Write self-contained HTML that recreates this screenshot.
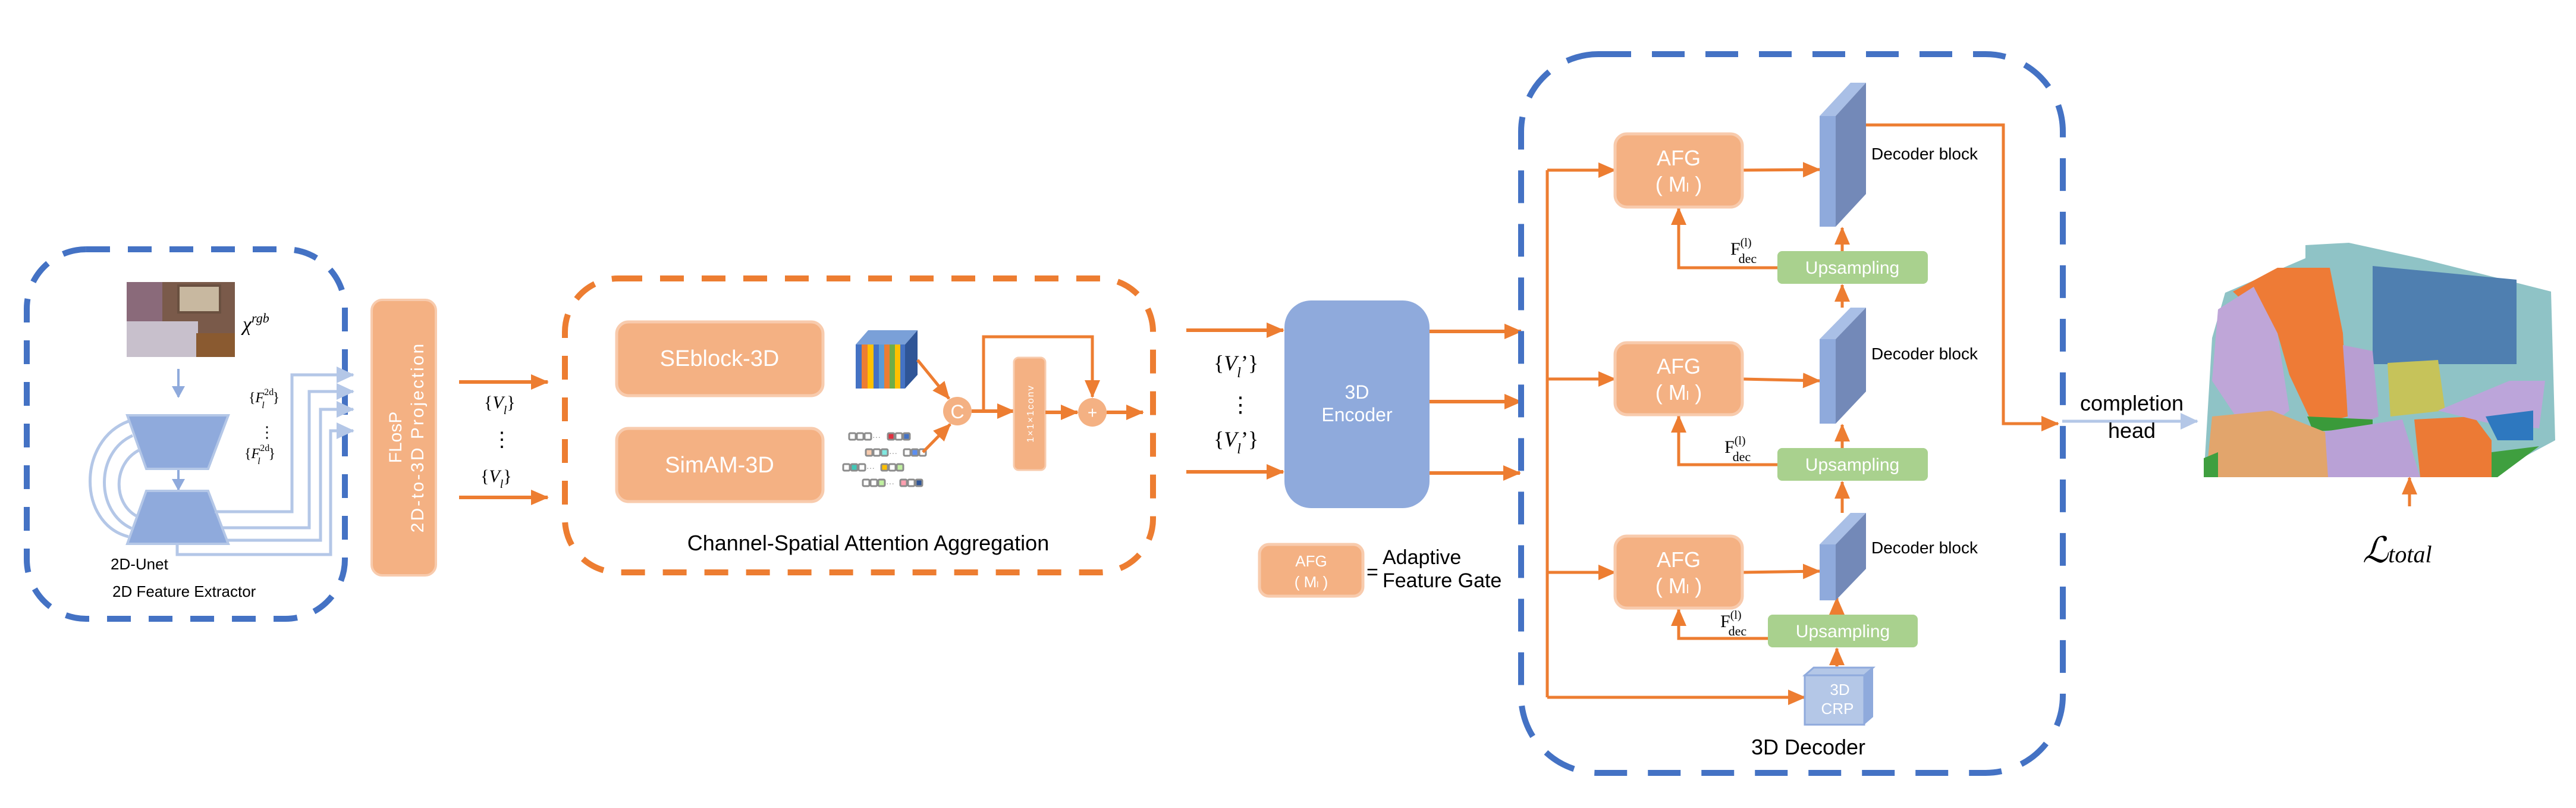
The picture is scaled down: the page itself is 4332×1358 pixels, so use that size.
<!DOCTYPE html>
<html><head><meta charset="utf-8"><style>
html,body{margin:0;padding:0;background:#fff;}
svg{display:block}
text{font-family:"Liberation Sans",sans-serif}
.ser{font-family:"Liberation Serif",serif}
</style></head><body>
<svg width="4332" height="1358" viewBox="0 0 4332 1358" xmlns="http://www.w3.org/2000/svg">
<defs>
<marker id="ao" markerUnits="userSpaceOnUse" markerWidth="30" markerHeight="30" refX="28" refY="15" orient="auto"><path d="M0,2 L30,15 L0,28 Z" fill="#ed7d31"/></marker>
<marker id="ab" markerUnits="userSpaceOnUse" markerWidth="30" markerHeight="30" refX="28" refY="15" orient="auto"><path d="M0,1 L30,15 L0,29 Z" fill="#b4c7e7"/></marker>
<marker id="ab2" markerUnits="userSpaceOnUse" markerWidth="20" markerHeight="22" refX="18" refY="11" orient="auto"><path d="M0,0 L20,11 L0,22 Z" fill="#8faadc"/></marker>
</defs>

<!-- Left blue dashed box -->
<rect x="45" y="419" width="535" height="621" rx="100" fill="none" stroke="#4472c4" stroke-width="10" stroke-dasharray="40,30"/>
<!-- Photo -->
<rect x="213" y="474" width="182" height="126" fill="#7a5a4a"/>
<rect x="213" y="474" width="60" height="126" fill="#8a6a7a"/>
<rect x="300" y="480" width="70" height="45" fill="#c8b8a0" stroke="#6a5040" stroke-width="4"/>
<rect x="213" y="540" width="120" height="60" fill="#c8c0cc"/>
<rect x="330" y="560" width="65" height="40" fill="#8a5a30"/>
<text x="408" y="556" class="ser" font-style="italic" font-size="34">χ<tspan font-size="22" dy="-14">rgb</tspan></text>
<!-- arrows -->
<line x1="300" y1="620" x2="300" y2="667" stroke="#8faadc" stroke-width="4" marker-end="url(#ab2)"/>
<line x1="300" y1="790" x2="300" y2="823" stroke="#8faadc" stroke-width="4" marker-end="url(#ab2)"/>
<!-- arcs -->
<g fill="none" stroke="#b4c7e7" stroke-width="5">
<path d="M216,708 C130,740 130,880 216,902"/>
<path d="M223,732 C160,760 160,860 221,888"/>
<path d="M233,757 C190,780 190,845 229,867"/>
</g>
<polygon points="214,698 384,698 350,788 246,788" fill="#8faadc" stroke="#b4c7e7" stroke-width="4"/>
<polygon points="246,825 350,825 384,914 214,914" fill="#8faadc" stroke="#b4c7e7" stroke-width="4"/>
<g fill="none" stroke="#b4c7e7" stroke-width="5">
<path d="M361,860 H491 V630 H594" marker-end="url(#ab)"/>
<path d="M372,887 H520 V658 H594" marker-end="url(#ab)"/>
<path d="M380,908 H539 V688 H594" marker-end="url(#ab)"/>
<path d="M298,914 V932 H556 V724 H594" marker-end="url(#ab)"/>
</g>
<text x="418" y="676" class="ser" font-size="24">{<tspan font-style="italic">F</tspan><tspan font-size="16" dy="-12">2d</tspan><tspan font-size="16" font-style="italic" dx="-20" dy="22">l</tspan><tspan dy="-10" dx="14">}</tspan></text>
<text x="436" y="735" font-size="26">⋮</text>
<text x="411" y="770" class="ser" font-size="24">{<tspan font-style="italic">F</tspan><tspan font-size="16" dy="-12">2d</tspan><tspan font-size="16" font-style="italic" dx="-20" dy="22">l</tspan><tspan dy="-10" dx="14">}</tspan></text>
<text x="186" y="957" font-size="26">2D-Unet</text>
<text x="189" y="1003" font-size="26">2D Feature Extractor</text>

<!-- FLosP bar -->
<rect x="625" y="504" width="108" height="463" rx="18" fill="#f4b183" stroke="#f8cbad" stroke-width="4"/>
<text transform="translate(675,735) rotate(-90)" text-anchor="middle" font-size="30" fill="#fff">FLosP</text>
<text transform="translate(712,735) rotate(-90)" text-anchor="middle" font-size="30" fill="#fff" letter-spacing="3">2D-to-3D Projection</text>

<!-- V_l arrows -->
<line x1="772" y1="642" x2="921" y2="642" stroke="#ed7d31" stroke-width="6" marker-end="url(#ao)"/>
<line x1="772" y1="836" x2="921" y2="836" stroke="#ed7d31" stroke-width="6" marker-end="url(#ao)"/>
<text x="814" y="686" class="ser" font-size="30">{<tspan font-style="italic">V</tspan><tspan font-size="20" font-style="italic" dy="10">l</tspan><tspan dy="-10">}</tspan></text>
<text x="827" y="750" font-size="34">⋮</text>
<text x="808" y="810" class="ser" font-size="30">{<tspan font-style="italic">V</tspan><tspan font-size="20" font-style="italic" dy="10">l</tspan><tspan dy="-10">}</tspan></text>

<!-- Orange dashed box -->
<rect x="950" y="468" width="989" height="494" rx="90" fill="none" stroke="#ed7d31" stroke-width="10" stroke-dasharray="40,30"/>
<rect x="1037" y="541" width="347" height="124" rx="20" fill="#f4b183" stroke="#f8cbad" stroke-width="5"/>
<text x="1210" y="615" text-anchor="middle" font-size="38" fill="#fff">SEblock-3D</text>
<rect x="1037" y="720" width="347" height="123" rx="20" fill="#f4b183" stroke="#f8cbad" stroke-width="5"/>
<text x="1210" y="794" text-anchor="middle" font-size="38" fill="#fff">SimAM-3D</text>
<!-- stack -->
<polygon points="1439,579 1460,555 1543,555 1522,579" fill="#7aa0d8"/>
<polygon points="1522,579 1543,555 1543,630 1522,653" fill="#2f5597"/>
<g>
<rect x="1439" y="579" width="10" height="74" fill="#4472c4"/>
<rect x="1449" y="579" width="10" height="74" fill="#ed7d31"/>
<rect x="1459" y="579" width="10" height="74" fill="#ffc000"/>
<rect x="1469" y="579" width="9" height="74" fill="#4472c4"/>
<rect x="1478" y="579" width="9" height="74" fill="#5b9bd5"/>
<rect x="1487" y="579" width="9" height="74" fill="#ed7d31"/>
<rect x="1496" y="579" width="9" height="74" fill="#70ad47"/>
<rect x="1505" y="579" width="9" height="74" fill="#ffc000"/>
<rect x="1514" y="579" width="8" height="74" fill="#4472c4"/>
</g>
<!-- dot rows -->
<g fill="#fff" stroke="#8c8c8c" stroke-width="3">
<rect x="1428" y="728" width="11" height="11" rx="2"/><rect x="1441" y="728" width="11" height="11" rx="2"/><rect x="1454" y="728" width="11" height="11" rx="2"/>
<rect x="1493" y="728" width="11" height="11" rx="2" fill="#e03040"/><rect x="1506" y="728" width="11" height="11" rx="2"/><rect x="1519" y="728" width="11" height="11" rx="2" fill="#4472c4"/>
<rect x="1456" y="755" width="11" height="11" rx="2" fill="#f8cbad"/><rect x="1469" y="755" width="11" height="11" rx="2"/><rect x="1482" y="755" width="11" height="11" rx="2" fill="#80e8e0"/>
<rect x="1520" y="755" width="11" height="11" rx="2"/><rect x="1533" y="755" width="11" height="11" rx="2" fill="#5b8ef0"/><rect x="1546" y="755" width="11" height="11" rx="2"/>
<rect x="1418" y="780" width="11" height="11" rx="2"/><rect x="1431" y="780" width="11" height="11" rx="2" fill="#40c8b8"/><rect x="1444" y="780" width="11" height="11" rx="2"/>
<rect x="1482" y="780" width="11" height="11" rx="2" fill="#ffc000"/><rect x="1495" y="780" width="11" height="11" rx="2"/><rect x="1508" y="780" width="11" height="11" rx="2" fill="#c0f0a0"/>
<rect x="1451" y="806" width="11" height="11" rx="2"/><rect x="1464" y="806" width="11" height="11" rx="2"/><rect x="1477" y="806" width="11" height="11" rx="2" fill="#c0f0a0"/>
<rect x="1514" y="806" width="11" height="11" rx="2" fill="#ffa0b0"/><rect x="1527" y="806" width="11" height="11" rx="2"/><rect x="1540" y="806" width="11" height="11" rx="2" fill="#2f5597"/>
</g>
<g fill="#8c8c8c" font-size="14"><text x="1467" y="739">···</text><text x="1495" y="766">···</text><text x="1457" y="791">···</text><text x="1490" y="817">···</text></g>
<!-- C, conv, + -->
<line x1="1543" y1="605" x2="1596" y2="670" stroke="#ed7d31" stroke-width="5" marker-end="url(#ao)"/>
<line x1="1552" y1="760" x2="1598" y2="713" stroke="#ed7d31" stroke-width="5" marker-end="url(#ao)"/>
<circle cx="1610" cy="691" r="24" fill="#f4b183"/>
<text x="1610" y="703" text-anchor="middle" font-size="32" fill="#fff">C</text>
<line x1="1634" y1="691" x2="1705" y2="691" stroke="#ed7d31" stroke-width="6" marker-end="url(#ao)"/>
<rect x="1705" y="601" width="53" height="189" rx="8" fill="#f4b183" stroke="#f8cbad" stroke-width="3"/>
<text transform="translate(1738,695) rotate(-90)" text-anchor="middle" font-size="16" fill="#fff" letter-spacing="2">1×1×1conv</text>
<path d="M1654,691 V566 H1837 V667" fill="none" stroke="#ed7d31" stroke-width="5" marker-end="url(#ao)"/>
<line x1="1758" y1="693" x2="1812" y2="693" stroke="#ed7d31" stroke-width="6" marker-end="url(#ao)"/>
<circle cx="1837" cy="693" r="24" fill="#f4b183"/>
<text x="1837" y="703" text-anchor="middle" font-size="28" fill="#fff">+</text>
<line x1="1861" y1="693" x2="1922" y2="693" stroke="#ed7d31" stroke-width="6" marker-end="url(#ao)"/>
<text x="1460" y="925" text-anchor="middle" font-size="36">Channel-Spatial Attention Aggregation</text>

<!-- 3D Encoder -->
<line x1="1995" y1="555" x2="2158" y2="555" stroke="#ed7d31" stroke-width="6" marker-end="url(#ao)"/>
<line x1="1995" y1="793" x2="2158" y2="793" stroke="#ed7d31" stroke-width="6" marker-end="url(#ao)"/>
<text x="2041" y="622" class="ser" font-size="36">{<tspan font-style="italic">V</tspan><tspan font-size="24" font-style="italic" dy="12">l</tspan><tspan dy="-12">’}</tspan></text>
<text x="2068" y="692" font-size="36">⋮</text>
<text x="2041" y="750" class="ser" font-size="36">{<tspan font-style="italic">V</tspan><tspan font-size="24" font-style="italic" dy="12">l</tspan><tspan dy="-12">’}</tspan></text>
<rect x="2160" y="505" width="244" height="349" rx="45" fill="#8faadc"/>
<text x="2282" y="670" text-anchor="middle" font-size="32" fill="#fff">3D</text>
<text x="2282" y="708" text-anchor="middle" font-size="32" fill="#fff">Encoder</text>
<g stroke="#ed7d31" stroke-width="6" marker-end="url(#ao)">
<line x1="2404" y1="557" x2="2558" y2="557"/><line x1="2404" y1="675" x2="2558" y2="675"/><line x1="2404" y1="795" x2="2556" y2="795"/>
</g>
<!-- legend -->
<rect x="2118" y="915" width="174" height="87" rx="16" fill="#f4b183" stroke="#f8cbad" stroke-width="5"/>
<text x="2205" y="952" text-anchor="middle" font-size="26" fill="#fff">AFG</text>
<text x="2205" y="987" text-anchor="middle" font-size="26" fill="#fff">( M<tspan font-size="14">l</tspan> )</text>
<text x="2298" y="973" font-size="34">=</text>
<text x="2325" y="948" font-size="34">Adaptive</text>
<text x="2325" y="987" font-size="34">Feature Gate</text>

<!-- Decoder box -->
<rect x="2558" y="91" width="911" height="1208" rx="130" fill="none" stroke="#4472c4" stroke-width="10" stroke-dasharray="55,35"/>
<path d="M2602,286 V1172" fill="none" stroke="#ed7d31" stroke-width="5"/>
<g stroke="#ed7d31" stroke-width="5" marker-end="url(#ao)" fill="none">
<line x1="2602" y1="286" x2="2716" y2="286"/>
<line x1="2602" y1="637" x2="2716" y2="637"/>
<line x1="2602" y1="962" x2="2716" y2="962"/>
<line x1="2602" y1="1172" x2="3035" y2="1172"/>
<line x1="2930" y1="286" x2="3060" y2="285"/>
<line x1="2930" y1="637" x2="3060" y2="640"/>
<line x1="2930" y1="962" x2="3060" y2="960"/>
<path d="M2989,450 H2823 V350"/>
<path d="M2989,781 H2823 V699"/>
<path d="M2973,1073 H2823 V1024"/>
<line x1="3098" y1="422" x2="3098" y2="383"/>
<line x1="3098" y1="517" x2="3098" y2="479"/>
<line x1="3098" y1="753" x2="3098" y2="714"/>
<line x1="3098" y1="862" x2="3098" y2="810"/>
<line x1="3089" y1="1033" x2="3089" y2="1005"/>
<line x1="3089" y1="1120" x2="3089" y2="1090"/>
<path d="M3125,210 H3369 V712 H3461"/>
</g>
<!-- AFG boxes -->
<g>
<rect x="2716" y="225" width="214" height="123" rx="20" fill="#f4b183" stroke="#f8cbad" stroke-width="5"/>
<text x="2823" y="278" text-anchor="middle" font-size="36" fill="#fff">AFG</text>
<text x="2823" y="322" text-anchor="middle" font-size="36" fill="#fff">( M<tspan font-size="20">l</tspan> )</text>
<rect x="2716" y="576" width="214" height="121" rx="20" fill="#f4b183" stroke="#f8cbad" stroke-width="5"/>
<text x="2823" y="628" text-anchor="middle" font-size="36" fill="#fff">AFG</text>
<text x="2823" y="672" text-anchor="middle" font-size="36" fill="#fff">( M<tspan font-size="20">l</tspan> )</text>
<rect x="2716" y="901" width="214" height="121" rx="20" fill="#f4b183" stroke="#f8cbad" stroke-width="5"/>
<text x="2823" y="953" text-anchor="middle" font-size="36" fill="#fff">AFG</text>
<text x="2823" y="997" text-anchor="middle" font-size="36" fill="#fff">( M<tspan font-size="20">l</tspan> )</text>
</g>
<!-- Decoder blocks -->
<g>
<polygon points="3060,195 3112,139 3138,139 3087,195" fill="#a9bfe6"/>
<rect x="3060" y="195" width="27" height="186" fill="#8faadc"/>
<polygon points="3087,195 3138,139 3138,326 3087,381" fill="#7389b8"/>
<polygon points="3060,570 3112,517 3138,517 3087,570" fill="#a9bfe6"/>
<rect x="3060" y="570" width="27" height="142" fill="#8faadc"/>
<polygon points="3087,570 3138,517 3138,658 3087,712" fill="#7389b8"/>
<polygon points="3060,915 3112,862 3138,862 3087,915" fill="#a9bfe6"/>
<rect x="3060" y="915" width="27" height="94" fill="#8faadc"/>
<polygon points="3087,915 3138,862 3138,956 3087,1009" fill="#7389b8"/>
</g>
<g font-size="28"><text x="3147" y="268">Decoder block</text><text x="3147" y="604">Decoder block</text><text x="3147" y="930">Decoder block</text></g>
<!-- Upsampling -->
<rect x="2989" y="422" width="253" height="55" rx="8" fill="#a9d18e"/>
<text x="3115" y="460" text-anchor="middle" font-size="30" fill="#fff">Upsampling</text>
<rect x="2989" y="753" width="253" height="55" rx="8" fill="#a9d18e"/>
<text x="3115" y="791" text-anchor="middle" font-size="30" fill="#fff">Upsampling</text>
<rect x="2973" y="1033" width="252" height="55" rx="8" fill="#a9d18e"/>
<text x="3099" y="1071" text-anchor="middle" font-size="30" fill="#fff">Upsampling</text>
<!-- F_dec -->
<g class="ser" font-size="30"><text x="2910" y="428" class="ser">F<tspan font-size="20" dy="-14">(l)</tspan><tspan font-size="22" dx="-22" dy="28">dec</tspan></text>
<text x="2900" y="761" class="ser">F<tspan font-size="20" dy="-14">(l)</tspan><tspan font-size="22" dx="-22" dy="28">dec</tspan></text>
<text x="2893" y="1054" class="ser">F<tspan font-size="20" dy="-14">(l)</tspan><tspan font-size="22" dx="-22" dy="28">dec</tspan></text></g>
<!-- CRP cube -->
<polygon points="3035,1135 3050,1122 3150,1122 3135,1135" fill="#b4c7e7" stroke="#8faadc" stroke-width="3"/>
<rect x="3035" y="1135" width="100" height="83" fill="#b4c7e7" stroke="#8faadc" stroke-width="3"/>
<polygon points="3135,1135 3150,1122 3150,1205 3135,1218" fill="#8faadc"/>
<text x="3094" y="1168" text-anchor="middle" font-size="26" fill="#fff">3D</text>
<text x="3090" y="1200" text-anchor="middle" font-size="26" fill="#fff">CRP</text>
<text x="3041" y="1268" text-anchor="middle" font-size="36">3D Decoder</text>

<!-- completion head -->
<line x1="3468" y1="708" x2="3695" y2="708" stroke="#b4c7e7" stroke-width="5" marker-end="url(#ab)"/>
<text x="3585" y="690" text-anchor="middle" font-size="36">completion</text>
<text x="3585" y="736" text-anchor="middle" font-size="36">head</text>

<!-- voxel scene -->
<polygon points="3877,412 3950,408 4069,434 4290,490 4297,740 4181,802 3706,802 3720,568 3742,492 3877,434" fill="#8fc3c6"/>
<polygon points="3990,447 4232,470 4232,612 3990,612" fill="#4f7fb0"/>
<polygon points="3755,490 3830,450 3918,450 3940,560 3948,700 3890,715 3850,630 3830,560" fill="#ee7b36"/>
<polygon points="3730,520 3790,482 3830,560 3850,690 3810,720 3760,700 3720,640" fill="#bfa6d8"/>
<polygon points="3940,580 3990,590 4000,700 3950,720" fill="#b89ed2"/>
<polygon points="4015,610 4100,605 4112,690 4020,700" fill="#c6c35a"/>
<polygon points="3880,700 3990,705 3990,720 3890,725" fill="#3a9a3a"/>
<polygon points="3720,700 3820,690 3920,730 3920,802 3710,802" fill="#e2a56c"/>
<polygon points="3910,725 4040,705 4070,802 3915,802" fill="#b9a1d6"/>
<polygon points="4060,705 4160,700 4190,740 4190,802 4070,802" fill="#ec7a35"/>
<polygon points="4100,690 4220,640 4280,640 4270,720 4180,710" fill="#bca5da"/>
<polygon points="4180,700 4260,690 4260,740 4200,740" fill="#2e78bf"/>
<polygon points="4190,760 4270,750 4200,802 4190,802" fill="#3f9f3f"/>
<polygon points="3706,770 3730,760 3730,802 3706,802" fill="#3f9f3f"/>
<!-- L_total -->
<line x1="4052" y1="851" x2="4052" y2="803" stroke="#ed7d31" stroke-width="5" marker-end="url(#ao)"/>
<text x="3973" y="945" class="ser" font-style="italic" font-size="60">ℒ<tspan font-size="40">total</tspan></text>
</svg>
</body></html>
